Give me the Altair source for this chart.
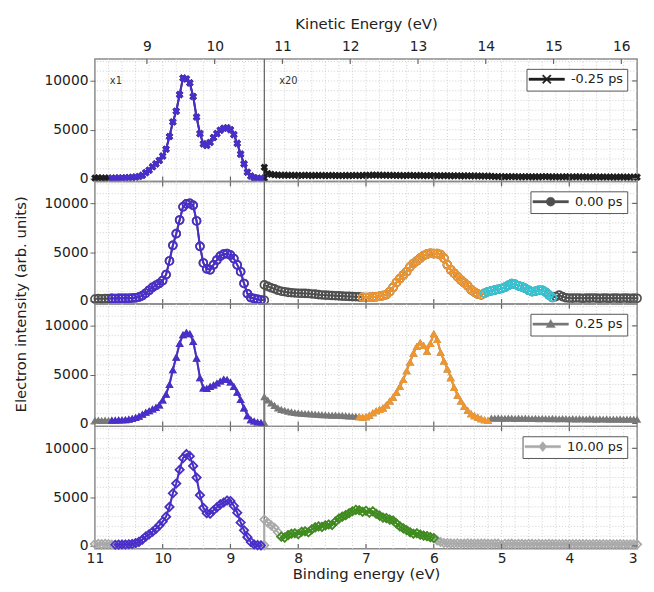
import altair as alt
import pandas as pd

# ---------------- data ----------------
BE_LEFT = [round(11.0 - 0.05 * i, 2) for i in range(51)]    # 11.00 -> 8.50 (x1 part)
BE_RIGHT = [round(8.5 - 0.05 * i, 2) for i in range(111)]   # 8.50 -> 3.00 (x20 part)

LABELS = ["-0.25 ps", "0.00 ps", "0.25 ps", "10.00 ps"]

P1_LEFT = [50, 80, 40, 60, 50, 30, 40, 50, 60, 80,
           100, 120, 150, 200, 330, 600, 850, 1200, 1500, 1850,
           2300, 3000, 4300, 5800, 6900, 8600, 10300, 10200, 9800, 8400,
           6300, 4600, 3550, 3400, 3700, 4200, 4600, 4950, 5150, 5200,
           5000, 4500, 3600, 2500, 1500, 650, 250, 80, 30, 20,
           30]
P1_RIGHT = [1150, 520, 430, 380, 360, 340, 350, 330, 340, 320,
            330, 310, 340, 320, 300, 330, 310, 320, 300, 310,
            320, 300, 310, 290, 320, 300, 310, 330, 300, 320,
            340, 330, 360, 340, 350, 330, 340, 320, 330, 310,
            320, 300, 310, 330, 310, 300, 320, 290, 300, 310,
            290, 300, 280, 300, 290, 270, 280, 290, 260, 270,
            280, 260, 270, 250, 260, 240, 250, 230, 200, 190,
            200, 180, 190, 200, 180, 190, 170, 190, 180, 170,
            180, 170, 190, 200, 180, 170, 180, 160, 170, 180,
            170, 160, 180, 170, 160, 170, 150, 160, 170, 150,
            160, 150, 160, 140, 150, 160, 140, 150, 140, 150,
            140]

P2_LEFT = [200, 250, 220, 260, 240, 270, 260, 270, 280, 270,
           280, 300, 330, 400, 550, 800, 1100, 1400, 1600, 1800,
           2100, 2700, 4100, 5700, 6900, 8300, 9650, 9950, 10000, 9800,
           8200, 5600, 3900, 3300, 3200, 3700, 4200, 4600, 4800, 4850,
           4700, 4350, 3700, 3000, 1800, 750, 350, 250, 180, 100,
           80]
P2_RIGHT = [1650, 1500, 1350, 1250, 1100, 1000, 950, 880, 850, 820,
            800, 790, 780, 760, 720, 700, 650, 620, 600, 580,
            560, 540, 520, 500, 480, 470, 450, 440, 420, 380,
            360, 380, 400, 430, 480, 550, 650, 950, 1400, 1900,
            2300, 2650, 3000, 3500, 3850, 4100, 4400, 4650, 4800, 4900,
            4850, 4850, 4750, 4400, 3700, 3200, 2850, 2500, 2150, 1850,
            1550, 1150, 900, 700, 620, 800, 950, 1050, 1120, 1200,
            1280, 1400, 1600, 1780, 1700, 1550, 1450, 1300, 1100, 950,
            1000, 1100, 1100, 900, 600, 350, 450, 600, 450, 330,
            300, 290, 310, 300, 280, 300, 290, 310, 290, 280,
            300, 290, 280, 300, 290, 280, 300, 290, 280, 290,
            280]

P3_LEFT = [330, 350, 320, 340, 330, 340, 350, 360, 380, 400,
           450, 520, 620, 750, 950, 1150, 1300, 1500, 1650, 1900,
           2400, 3000, 4000, 5500, 6800, 8200, 9100, 9350, 9200, 8400,
           6700, 4700, 3650, 3600, 3800, 3950, 4150, 4350, 4550, 4500,
           4250, 3800, 3200, 2450, 1600, 800, 400, 250, 150, 100,
           80]
P3_RIGHT = [2750, 2400, 2100, 1850, 1600, 1450, 1350, 1250, 1180, 1120,
            1080, 1050, 1020, 1000, 980, 950, 930, 900, 890, 870,
            860, 850, 840, 820, 800, 780, 760, 740, 700, 650,
            700, 850, 1100, 1300, 1450, 1600, 1900, 2300, 2700, 3200,
            3800, 4500, 5400, 6300, 7200, 7900, 8300, 8000, 7400, 8200,
            9200, 8600, 7300, 6400, 5600, 4700, 3700, 2900, 2300, 1750,
            1350, 1000, 800, 650, 500, 380, 320, 560, 540, 570,
            550, 530, 560, 540, 520, 550, 530, 540, 520, 510,
            530, 500, 520, 510, 490, 520, 500, 480, 510, 490,
            480, 500, 470, 490, 480, 460, 490, 470, 450, 480,
            460, 470, 450, 460, 440, 470, 450, 440, 460, 440,
            430]

P4_LEFT = [200, 220, 180, 210, 190, 150, 120, 130, 140, 150,
           170, 200, 280, 420, 650, 950, 1200, 1450, 1750, 2100,
           2500, 3000, 4000, 5400, 6400, 7800, 9000, 9400, 9200, 8200,
           7000, 5200, 3900, 3350, 3300, 3650, 3950, 4250, 4450, 4650,
           4600, 4100, 3400, 2400, 1600, 900, 400, 150, 80, 50,
           60]
P4_RIGHT = [2700, 2400, 2100, 1850, 1400, 950, 850, 1100, 1250, 1300,
            1200, 1450, 1500, 1400, 1700, 1900, 2000, 1950, 2100, 2200,
            2150, 2500, 2800, 3000, 3150, 3350, 3550, 3700, 3650, 3500,
            3600, 3400, 3550, 3300, 3100, 2900, 2850, 2700, 2600, 2300,
            2000, 1800, 1600, 1400, 1250, 1300, 1150, 1050, 1000, 900,
            800, 550, 400, 300, 280, 260, 250, 270, 240, 250,
            260, 240, 250, 230, 240, 250, 230, 220, 240, 230,
            130, 220, 210, 230, 200, 220, 210, 200, 220, 210,
            200, 210, 190, 200, 210, 190, 200, 180, 190, 200,
            190, 180, 200, 190, 180, 190, 170, 180, 190, 170,
            180, 170, 180, 160, 170, 180, 160, 170, 160, 170,
            160]

PURPLE, ORANGE, CYAN, GREEN = "#4a2ecb", "#f0962e", "#33c6d6", "#3f8c1e"
# (part, from BE, to BE, colour)
SEGMENTS = [
    [("left", 10.75, 8.55, PURPLE)],
    [("left", 10.75, 8.55, PURPLE), ("right", 7.05, 5.25, ORANGE), ("right", 5.25, 4.25, CYAN)],
    [("left", 10.75, 8.55, PURPLE), ("right", 7.10, 5.20, ORANGE)],
    [("left", 10.70, 8.55, PURPLE), ("right", 8.25, 6.00, GREEN)],
]
SERIES = [(P1_LEFT, P1_RIGHT), (P2_LEFT, P2_RIGHT), (P3_LEFT, P3_RIGHT), (P4_LEFT, P4_RIGHT)]

BE_TICKS = [11, 10, 9, 8, 7, 6, 5, 4, 3]
KE_TICKS = [9, 10, 11, 12, 13, 14, 15, 16]
KE_DOMAIN = [8.233, 16.233]
GRID_X = [round(11 - 0.2 * i, 1) for i in range(1, 40)]
GRID_Y = [1000 * k for k in range(1, 13)]
Y_TICKS = [0, 5000, 10000]
DIVIDER = [8.5]

# ---------------- styling ----------------
W, H = 549, 124
FONT = "DejaVu Sans"
BASE_COLORS = ["#1e1e1e", "#4f4f4f", "#787878", "#a9a9a9"]
SHAPES = ["cross", "circle", "triangle-up", "diamond"]
FILLED = [True, False, True, False]
SIZES = [60, 64, 70, 70]
# legend symbol: unit = 6 px (symbolSize 144)
LINE = "M-3,-0.2H3V0.2H-3Z"
LEG_MARK = [
    "M-0.58,-0.76L0.76,0.58L0.58,0.76L-0.76,-0.58ZM-0.76,0.58L0.58,-0.76L0.76,-0.58L-0.58,0.76Z",
    "M-0.75,0A0.75,0.75 0 1,1 0.75,0A0.75,0.75 0 1,1 -0.75,0Z",
    "M0,-0.8L0.78,0.58L-0.78,0.58Z",
    "M0,-0.85L0.68,0L0,0.85L-0.68,0Z",
]

XSCALE = alt.Scale(domain=[11, 3], nice=False, zero=False)
YSCALE = alt.Scale(domain=[-300, 12250], nice=False, zero=False)


def xenc(field, show):
    if show:
        ax = alt.Axis(values=BE_TICKS, format="d", title="Binding energy (eV)", ticks=False,
                      domain=False, grid=False, labelFontSize=14, titleFontSize=15,
                      labelPadding=3, titlePadding=1, labelFlush=False,
                      labelAlign={"condition": {"test": "datum.value <= 3", "value": "right"},
                                  "value": "center"})
    else:
        ax = None
    return alt.X(field, type="quantitative", scale=XSCALE, axis=ax)


def yenc(field, title):
    kw = dict(values=Y_TICKS, format="d", grid=False, domain=False, tickSize=5, tickColor="#666",
              labelFontSize=14, labelPadding=2, titleFontSize=15, titlePadding=16)
    if title:
        kw.update(title=title, titleY=H)
    else:
        kw.update(title=None)
    return alt.Y(field, type="quantitative", scale=YSCALE, axis=alt.Axis(**kw))


def panel(i):
    left, right = SERIES[i]
    label, bc = LABELS[i], BASE_COLORS[i]
    show_x = i == 3
    ytitle = "Electron intensity (arb. units)" if i == 1 else None

    rows = []
    k = 0
    for be, v in zip(BE_LEFT, left):
        rows.append({"be": be, "v": v, "o": k, "lab": label, "part": "left"}); k += 1
    for be, v in zip(BE_RIGHT, right):
        rows.append({"be": be, "v": v, "o": k, "lab": label, "part": "right"}); k += 1
    df = pd.DataFrame(rows)

    layers = []
    layers.append(alt.Chart(pd.DataFrame({"gx": GRID_X})).mark_rule(
        color="#cfcfcf", strokeDash=[1, 2], strokeWidth=1).encode(x=xenc("gx", show_x)))
    layers.append(alt.Chart(pd.DataFrame({"gy": GRID_Y})).mark_rule(
        color="#cfcfcf", strokeDash=[1, 2], strokeWidth=1).encode(y=yenc("gy", ytitle)))
    layers.append(alt.Chart(pd.DataFrame({"d": DIVIDER})).mark_rule(
        color="#6a6a6a", strokeWidth=1.3).encode(x=xenc("d", show_x)))

    legend = alt.Legend(title=None, orient="top-right", offset=10, padding=4,
                        strokeColor="#555", fillColor="white",
                        symbolType=LINE + LEG_MARK[i], symbolSize=144, symbolOffset=10,
                        symbolFillColor=bc, symbolStrokeColor=bc, symbolStrokeWidth=0.4,
                        labelFontSize=13, labelFont=FONT, labelColor="#222", labelOffset=18)
    layers.append(alt.Chart(df).mark_line(strokeWidth=2).encode(
        x=xenc("be", show_x), y=yenc("v", ytitle), order="o:Q",
        color=alt.Color("lab:N", scale=alt.Scale(domain=[label], range=[bc]), legend=legend)))
    pt = dict(shape=SHAPES[i], size=SIZES[i], filled=FILLED[i], strokeWidth=1.7, opacity=1)
    if SHAPES[i] == "cross":
        pt["angle"] = 45
    layers.append(alt.Chart(df).mark_point(color=bc, **pt).encode(
        x=xenc("be", show_x), y=yenc("v", ytitle)))

    for part, hi, lo, col in SEGMENTS[i]:
        sdf = df[(df["part"] == part) & (df["be"] <= hi + 1e-6) & (df["be"] >= lo - 1e-6)]
        layers.append(alt.Chart(sdf).mark_line(strokeWidth=2, color=col).encode(
            x=xenc("be", show_x), y=yenc("v", ytitle), order="o:Q"))
        layers.append(alt.Chart(sdf).mark_point(color=col, **pt).encode(
            x=xenc("be", show_x), y=yenc("v", ytitle)))

    tick_df = pd.DataFrame({"t": BE_TICKS[1:-1]})
    layers.append(alt.Chart(tick_df).mark_rule(color="#666", strokeWidth=1.2).encode(
        x=xenc("t", show_x), y=alt.value(H - 5), y2=alt.value(H)))
    if i > 0:
        layers.append(alt.Chart(tick_df).mark_rule(color="#666", strokeWidth=1.2).encode(
            x=xenc("t", show_x), y=alt.value(0), y2=alt.value(5)))
    layers.append(alt.Chart(pd.DataFrame({"yt": Y_TICKS})).mark_rule(color="#666", strokeWidth=1.2).encode(
        y=yenc("yt", ytitle), x=alt.value(W - 5), x2=alt.value(W)))

    if i == 0:
        tdf = pd.DataFrame({"be": [10.78, 8.28], "v": [10000, 10000], "t": ["x1", "x20"]})
        layers.append(alt.Chart(tdf).mark_text(align="left", baseline="middle", fontSize=10,
                                               font=FONT, color="#333").encode(
            x=xenc("be", show_x), y=yenc("v", ytitle), text="t:N"))

    inner = alt.layer(*layers).properties(width=W, height=H)
    if i == 0:
        ke = alt.Chart(pd.DataFrame({"ke": KE_TICKS})).mark_rule(color="#666", strokeWidth=1.2).encode(
            x=alt.X("ke:Q", scale=alt.Scale(domain=KE_DOMAIN, nice=False, zero=False),
                    axis=alt.Axis(orient="top", values=KE_TICKS, format="d", title="Kinetic Energy (eV)",
                                  ticks=False, domain=False, grid=False, labelFontSize=14,
                                  titleFontSize=15, labelPadding=6, titlePadding=8, labelFlush=False)),
            y=alt.value(0), y2=alt.value(5))
        return alt.layer(inner, ke).resolve_scale(x="independent").properties(width=W, height=H)
    return inner


chart = alt.vconcat(*[panel(i) for i in range(4)], spacing=0, bounds="flush").resolve_scale(
    color="independent"
).configure_view(stroke="#8a8a8a", strokeWidth=1.5).configure_axis(
    labelFont=FONT, titleFont=FONT, labelColor="#222", titleColor="#222", titleFontWeight="normal"
).properties(padding={"left": 4, "top": 4, "right": 0, "bottom": 0}, background="white")

chart.save("out.html", embed_options={"renderer": "svg", "actions": False})
